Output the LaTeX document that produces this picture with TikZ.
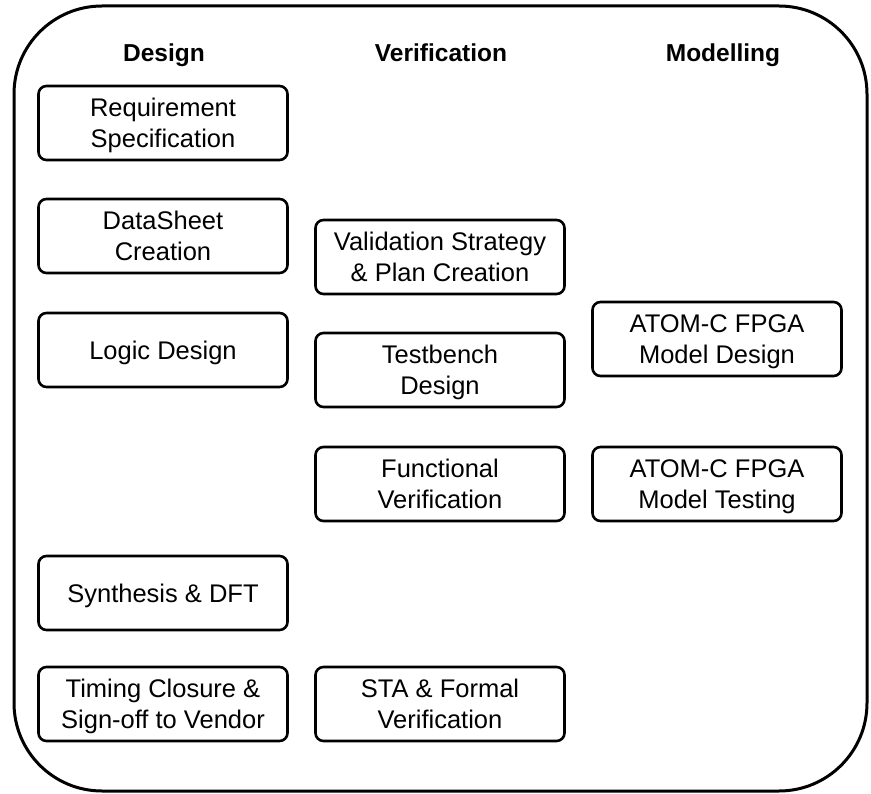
\documentclass[tikz,border=0pt]{standalone}
\usepackage{fontspec}
\setmainfont{Liberation Sans}
\begin{document}
\begin{tikzpicture}[x=1pt,y=-1pt,
  box/.style={draw, line width=2.6pt, rounded corners=8pt, minimum width=249pt, minimum height=74pt, align=center, font=\fontsize{25.5}{31}\selectfont, inner sep=0pt, text depth=0pt},
  head/.style={font=\fontsize{24.5}{28}\selectfont\bfseries, anchor=base}]
\useasboundingbox (0,0) rectangle (871,794);
\draw[line width=3pt, rounded corners=88pt] (14,6) rectangle (867,791);
\node[head] (hd) at (164,62) {Design};
\node[head] (hv) at (441,62) {Verification};
\node[head] (hm) at (723,62) {Modelling};
\node[box] (req) at (163,123) {Requirement\\Specification};
\node[box] (ds) at (163,236) {DataSheet\\Creation};
\node[box] (ld) at (163,350) {Logic Design};
\node[box] (syn) at (163,593) {Synthesis \& DFT};
\node[box] (tc) at (163,704) {Timing Closure \&\\Sign-off to Vendor};
\node[box] (vs) at (440,257) {Validation Strategy\\\& Plan Creation};
\node[box] (tb) at (440,370) {Testbench\\Design};
\node[box] (fv) at (440,484) {Functional\\Verification};
\node[box] (sta) at (440,704) {STA \& Formal\\Verification};
\node[box] (amd) at (717,339) {ATOM-C FPGA\\Model Design};
\node[box] (amt) at (717,484) {ATOM-C FPGA\\Model Testing};
\end{tikzpicture}
\end{document}
